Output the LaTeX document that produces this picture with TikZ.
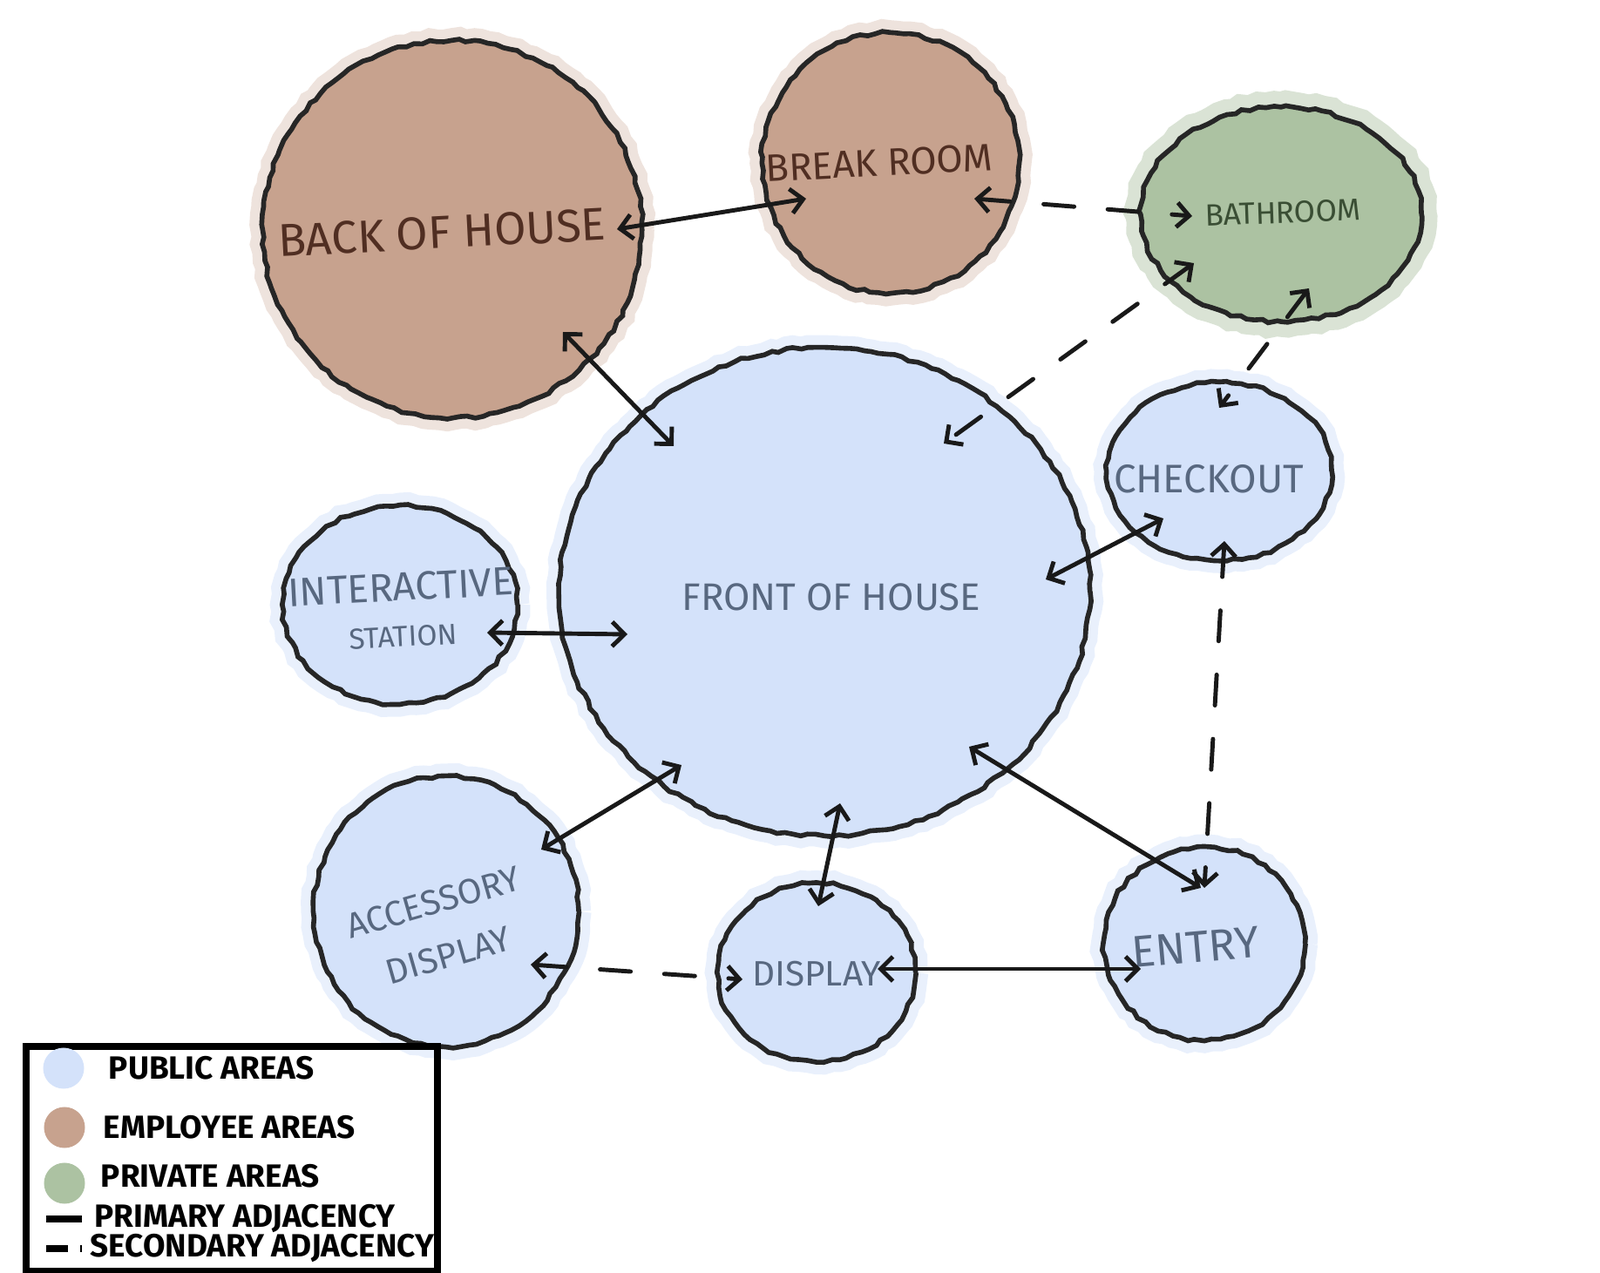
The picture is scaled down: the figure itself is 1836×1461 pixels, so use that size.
\documentclass[tikz,border=0pt]{standalone}
\usepackage{fontspec}
\setmainfont{Fira Sans}
\usepackage{tikz}
\usetikzlibrary{positioning, shapes.geometric, arrows.meta, decorations.pathmorphing}
\definecolor{publicblue}{RGB}{212,226,250}
\definecolor{employeebrown}{RGB}{199,162,142}
\definecolor{privategreen}{RGB}{172,194,162}
\definecolor{pencil}{RGB}{38,38,38}
\definecolor{bluetext}{RGB}{88,104,128}
\definecolor{browntext}{RGB}{80,46,34}
\definecolor{greentext}{RGB}{58,78,52}
\tikzset{
  zone/.style={ellipse, draw=pencil, line width=1.6pt, inner sep=0pt,
    decoration={random steps, segment length=2.5pt, amplitude=0.5pt}, decorate},
  public/.style={zone, fill=publicblue, preaction={draw=publicblue, line width=8pt, draw opacity=0.5}},
  employee/.style={zone, fill=employeebrown, preaction={draw=employeebrown, line width=8pt, draw opacity=0.3}},
  private/.style={zone, fill=privategreen, preaction={draw=privategreen, line width=10pt, draw opacity=0.45}},
  zonelabel/.style={inner sep=0pt, align=center, text=bluetext},
  primary/.style={<->, line width=1.4pt, draw=black!90, line cap=round},
  secondary/.style={primary, dash pattern=on 10pt off 11pt},
  legenddot/.style={circle, minimum size=0.47cm, inner sep=0pt},
  legendtext/.style={anchor=west, inner sep=0pt, font=\fontsize{10.5}{12}\selectfont\bfseries},
}

\begin{document}
\begin{tikzpicture}[x=0.01cm, y=-0.01cm, >={Straight Barb[length=4pt, width=8pt]}]
  \useasboundingbox (0,0) rectangle (1836,1461);

  % employee and private areas
  \node[employee, minimum width=4.35cm, minimum height=4.33cm] (boh) at (519,263) {};
  \node[employee, minimum width=2.95cm, minimum height=2.99cm] (brk) at (1022,187) {};
  \node[private, minimum width=3.22cm, minimum height=2.46cm] (bath) at (1470,246) {};

  % public areas
  \node[public, minimum width=6.09cm, minimum height=5.60cm] (foh) at (946,679) {};
  \node[public, minimum width=2.58cm, minimum height=2.05cm] (chk) at (1399,541) {};
  \node[public, minimum width=2.69cm, minimum height=2.28cm] (ist) at (459,694) {};
  \node[public, minimum width=3.04cm, minimum height=3.10cm] (acc) at (512,1046) {};
  \node[public, minimum width=2.27cm, minimum height=2.05cm] (dsp) at (937,1116) {};
  \node[public, minimum width=2.31cm, minimum height=2.22cm] (ent) at (1382,1083) {};

  % zone names
  \node[zonelabel, text=browntext, rotate=3, font=\fontsize{15}{18}\selectfont] (bohtext) at ([shift={(-12,4)}]boh.center) {BACK OF HOUSE};
  \node[zonelabel, text=browntext, rotate=3, font=\fontsize{12.5}{15}\selectfont] (brktext) at ([shift={(-13,0)}]brk.center) {BREAK ROOM};
  \node[zonelabel, text=greentext, rotate=2, font=\fontsize{10}{12}\selectfont] (bathtext) at ([shift={(2,-2)}]bath.center) {BATHROOM};
  \node[zonelabel, font=\fontsize{12.5}{15}\selectfont] (fohtext) at ([shift={(8,6)}]foh.center) {FRONT OF HOUSE};
  \node[zonelabel, font=\fontsize{13}{15}\selectfont] (chktext) at ([shift={(-12,9)}]chk.center) {CHECKOUT};
  \node[zonelabel, rotate=3, font=\fontsize{13}{14}\selectfont] (isttext) at ([shift={(2,6)}]ist.center)
    {INTERACTIVE\\[1pt]{\fontsize{9.5}{11}\selectfont STATION}};
  \node[zonelabel, rotate=16, font=\fontsize{11.5}{15}\selectfont] (acctext) at ([shift={(-6,20)}]acc.center) {ACCESSORY\\[3pt]DISPLAY};
  \node[zonelabel, font=\fontsize{11.5}{13}\selectfont] (dsptext) at ([shift={(0,2)}]dsp.center) {DISPLAY};
  \node[zonelabel, rotate=5, font=\fontsize{14.5}{17}\selectfont] (enttext) at ([shift={(-10,4)}]ent.center) {ENTRY};

  % primary adjacencies
  \draw[primary] ([shift={(189,0)}]boh.center) -- ([shift={(-97,41)}]brk.center);
  \draw[primary] ([shift={(127,118)}]boh.center) -- ([shift={(-173,-167)}]foh.center);
  \draw[primary] ([shift={(-64,54)}]chk.center) -- ([shift={(254,-14)}]foh.center);
  \draw[primary] ([shift={(100,32)}]ist.center) -- ([shift={(-226,49)}]foh.center);
  \draw[primary] ([shift={(109,-71)}]acc.center) -- ([shift={(-164,199)}]foh.center);
  \draw[primary] ([shift={(2,-76)}]dsp.center) -- ([shift={(18,243)}]foh.center);
  \draw[primary] ([shift={(166,178)}]foh.center) -- ([shift={(-4,-64)}]ent.center);
  \draw[primary] ([shift={(70,-4)}]dsp.center) -- ([shift={(-73,29)}]ent.center);

  % secondary adjacencies
  \draw[secondary] ([shift={(96,41)}]brk.center) -- ([shift={(-102,2)}]bath.center);
  \draw[secondary] ([shift={(-100,56)}]bath.center) -- ([shift={(137,-170)}]foh.center);
  \draw[secondary] ([shift={(32,85)}]bath.center) -- ([shift={(0,-73)}]chk.center);
  \draw[secondary] ([shift={(6,80)}]chk.center) -- ([shift={(0,-64)}]ent.center);
  \draw[secondary] ([shift={(97,61)}]acc.center) -- ([shift={(-85,8)}]dsp.center);

  % legend
  \node[draw, line width=2.2pt, anchor=north west, minimum width=4.72cm, minimum height=2.58cm] (legend) at (26,1197) {};
  \node[legenddot, fill=publicblue] (pubdot) at (73,1226) {};
  \node[legenddot, fill=employeebrown] (empdot) at (74,1294) {};
  \node[legenddot, fill=privategreen] (pvtdot) at (74,1358) {};
  \node[legendtext, right=0.27cm of pubdot] (pubtxt) {PUBLIC AREAS};
  \node[legendtext, right=0.2cm of empdot] (emptxt) {EMPLOYEE AREAS};
  \node[legendtext, right=0.17cm of pvtdot, yshift=0.08cm] (pvttxt) {PRIVATE AREAS};
  \coordinate (prim1) at (53,1399);
  \coordinate (prim2) at (94,1399);
  \coordinate (sec1) at (53,1433);
  \coordinate (sec2) at (94,1433);
  \draw[line width=2pt] (prim1) -- (prim2);
  \draw[line width=2pt, dash pattern=on 7pt off 4pt] (sec1) -- (sec2);
  \node[legendtext, right=0.14cm of prim2] (primtxt) {PRIMARY ADJACENCY};
  \node[legendtext, right=0.09cm of sec2] (sectxt) {SECONDARY ADJACENCY};
\end{tikzpicture}
\end{document}
